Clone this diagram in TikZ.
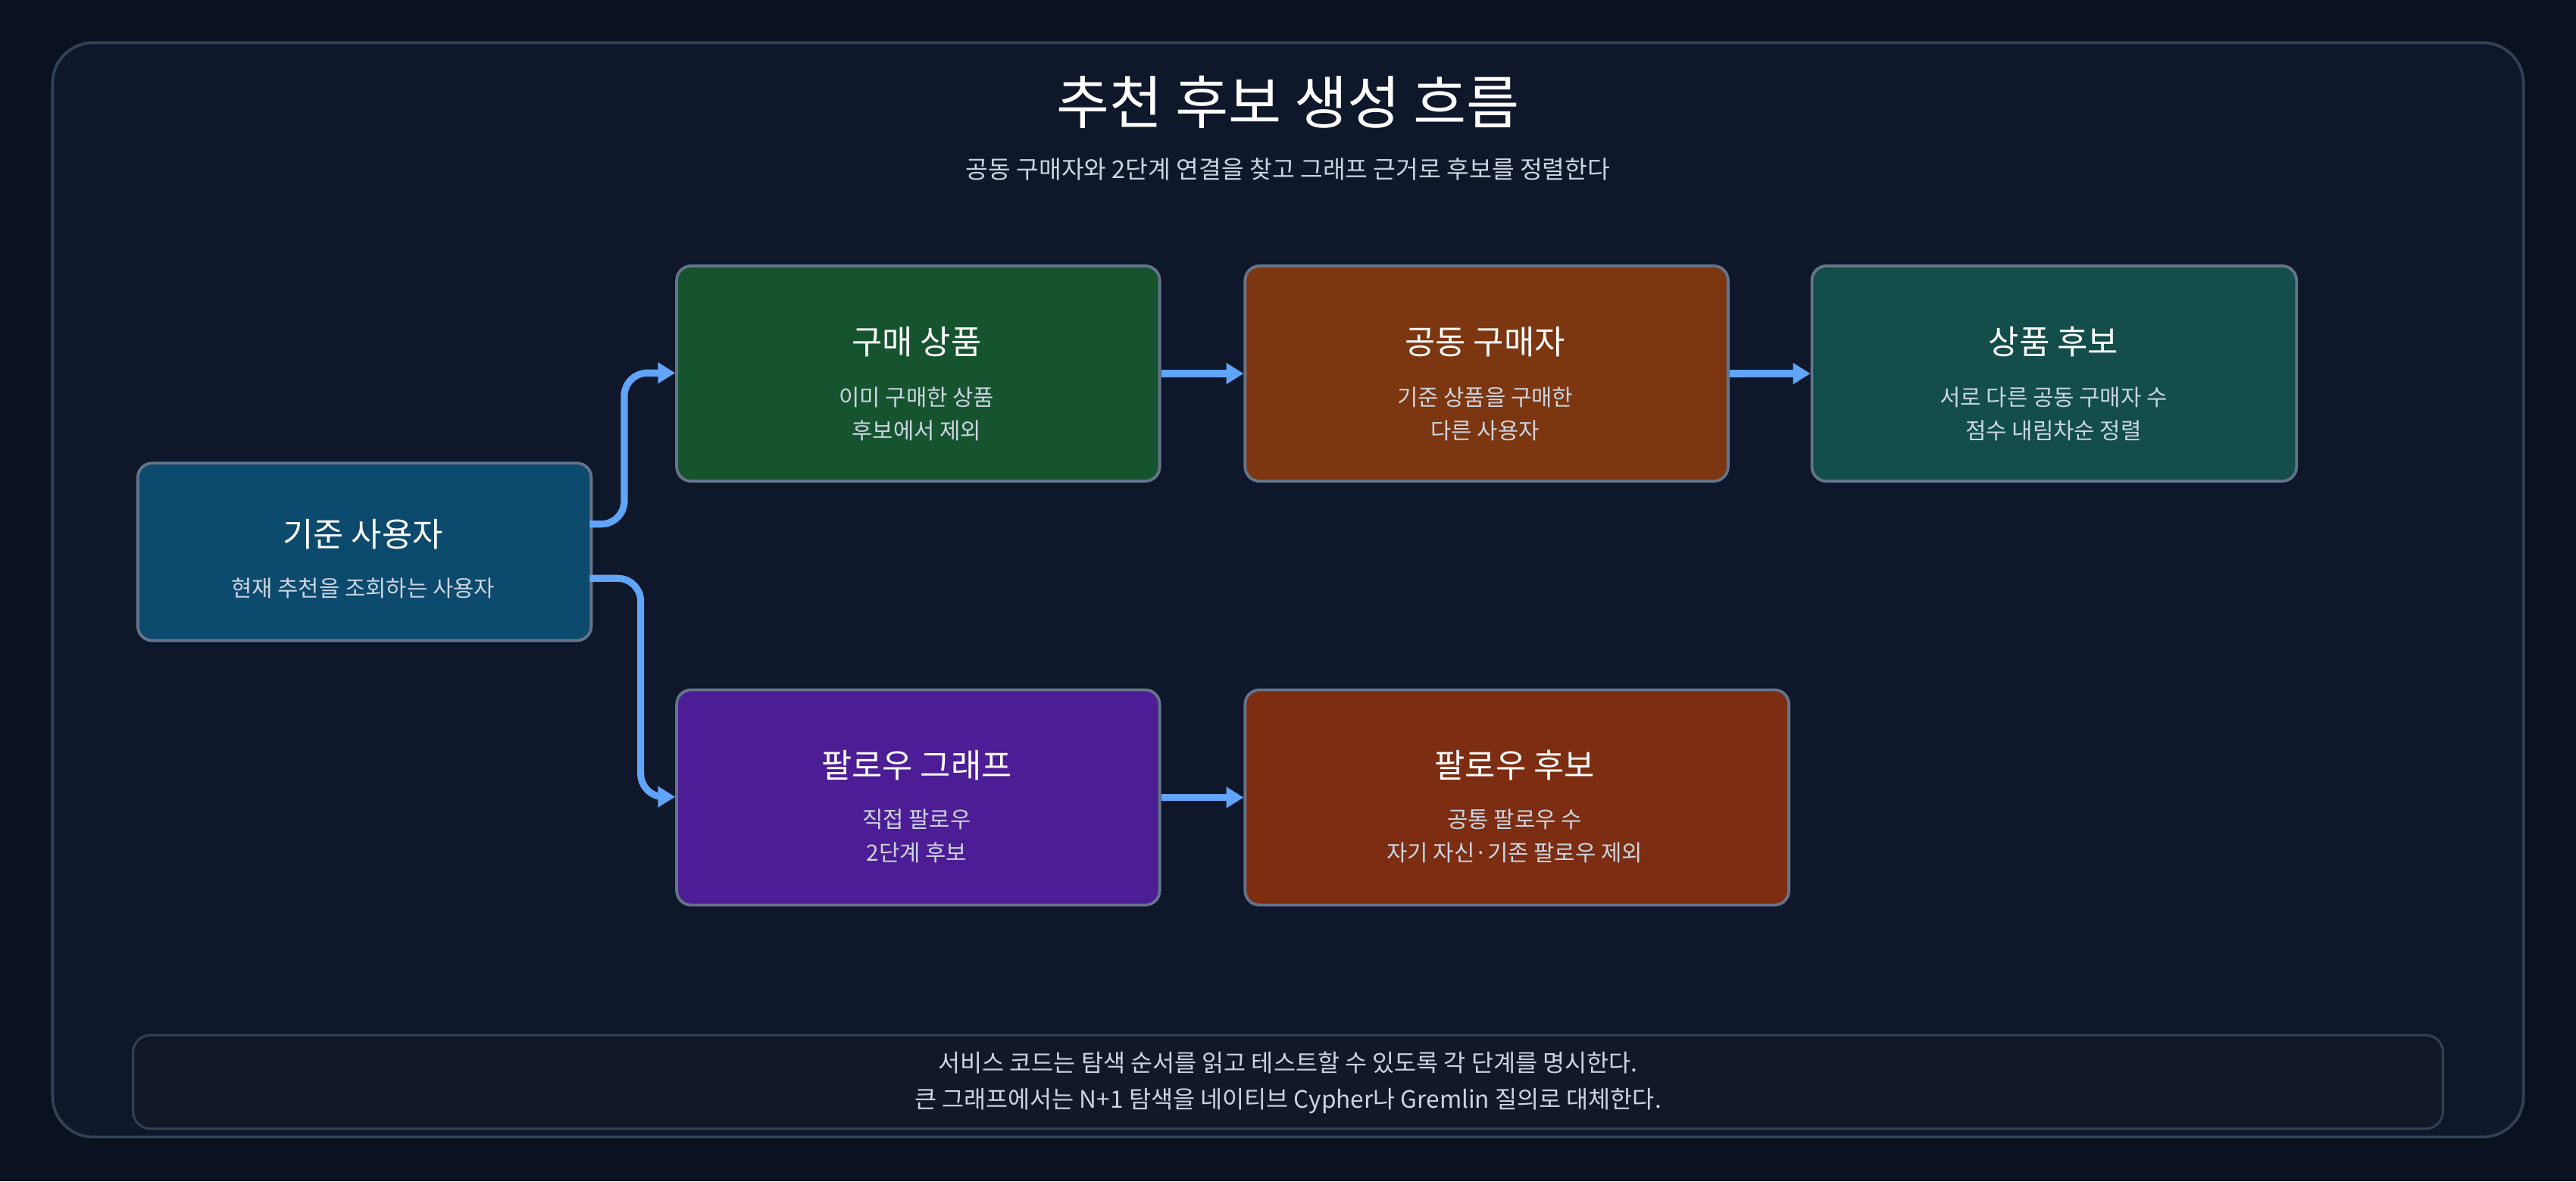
\documentclass[tikz,border=0pt]{standalone}
\usepackage{fontspec}
\setmainfont{Noto Sans CJK KR}
\usetikzlibrary{arrows.meta}
\definecolor{bg}{HTML}{0A1220}
\definecolor{panel}{HTML}{0F172A}
\definecolor{edge}{HTML}{334155}
\definecolor{boxedge}{HTML}{64748B}
\definecolor{arrow}{HTML}{60A5FA}
\definecolor{sub}{HTML}{CBD5E1}
\tikzset{
  box/.style={draw=boxedge, line width=1pt, rounded corners=5pt, anchor=north west, inner sep=0pt},
  ttl/.style={text=white, font=\fontsize{11.5}{13}\selectfont},
  txt/.style={text=sub, font=\fontsize{7.8}{11.5}\selectfont, align=center},
  flow/.style={draw=arrow, line width=2.4pt, rounded corners=8pt, -{Triangle[length=6pt,width=7pt]}}
}
\begin{document}
\begin{tikzpicture}[x=0.02cm,y=-0.02cm]
\fill[bg] (0,0) rectangle (1568,719);
\useasboundingbox (0,0) rectangle (1568,719);
\draw[edge, fill=panel, line width=1pt, rounded corners=14pt] (32,26) rectangle (1536,692);
\node[text=white, font=\fontsize{20}{24}\selectfont] (title) at (784,62) {추천 후보 생성 흐름};
\node[text=sub, font=\fontsize{8.5}{10}\selectfont] (subtitle) at (784,103) {공동 구매자와 2단계 연결을 찾고 그래프 근거로 후보를 정렬한다};
% boxes
\node[box, fill={rgb,255:red,12;green,74;blue,110}, minimum width=276*0.02cm, minimum height=108*0.02cm] (u) at (83,281) {};
\node[box, fill={rgb,255:red,22;green,84;blue,48}, minimum width=294*0.02cm, minimum height=131*0.02cm] (p) at (411,161) {};
\node[box, fill={rgb,255:red,124;green,54;blue,16}, minimum width=294*0.02cm, minimum height=131*0.02cm] (c) at (757,161) {};
\node[box, fill={rgb,255:red,19;green,78;blue,74}, minimum width=295*0.02cm, minimum height=131*0.02cm] (r) at (1102,161) {};
\node[box, fill={rgb,255:red,76;green,29;blue,149}, minimum width=294*0.02cm, minimum height=131*0.02cm] (f) at (411,419) {};
\node[box, fill={rgb,255:red,124;green,45;blue,18}, minimum width=331*0.02cm, minimum height=131*0.02cm] (fc) at (757,419) {};
% labels
\node[ttl] (ut) at (221,325) {기준 사용자};
\node[txt] (ud) at (221,358) {현재 추천을 조회하는 사용자};
\node[ttl] (pt) at (558,208) {구매 상품};
\node[txt] (pd) at (558,252) {이미 구매한 상품\\후보에서 제외};
\node[ttl] (ct) at (904,208) {공동 구매자};
\node[txt] (cd) at (904,252) {기준 상품을 구매한\\다른 사용자};
\node[ttl] (rt) at (1250,208) {상품 후보};
\node[txt] (rd) at (1250,252) {서로 다른 공동 구매자 수\\점수 내림차순 정렬};
\node[ttl] (ft) at (558,466) {팔로우 그래프};
\node[txt] (fd) at (558,509) {직접 팔로우\\2단계 후보};
\node[ttl] (fct) at (922,466) {팔로우 후보};
\node[txt] (fcd) at (922,509) {공통 팔로우 수\\자기 자신·기존 팔로우 제외};
% arrows
\coordinate (u1) at (359,319);
\coordinate (u2) at (359,352);
\coordinate (p1) at (411,227);
\coordinate (f1) at (411,485);
\draw[flow] (u1) -- (380,319) -- (380,227) -- (p1);
\draw[flow] (u2) -- (390,352) -- (390,485) -- (f1);
\draw[flow] (p.east) -- (c.west);
\draw[flow] (c.east) -- (r.west);
\draw[flow] (f.east) -- (fc.west);
% footer
\draw[edge, fill={rgb,255:red,17;green,24;blue,39}, line width=0.8pt, rounded corners=6pt] (81,630) rectangle (1487,687);
\node[txt, font=\fontsize{8.3}{12.5}\selectfont] (foot) at (784,659) {서비스 코드는 탐색 순서를 읽고 테스트할 수 있도록 각 단계를 명시한다.\\큰 그래프에서는 N+1 탐색을 네이티브 Cypher나 Gremlin 질의로 대체한다.};
\end{tikzpicture}
\end{document}
